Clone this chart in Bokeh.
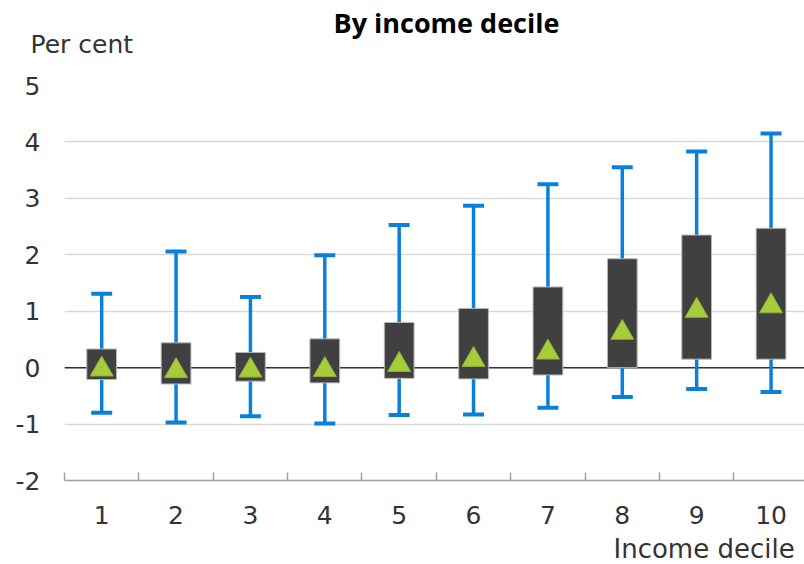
from bokeh.plotting import figure
from bokeh.models import (ColumnDataSource, FixedTicker, Span, Range1d, Title)
from bokeh.embed import file_html
from bokeh.resources import INLINE

# Distribution of the change, per cent, by income decile
deciles = [1, 2, 3, 4, 5, 6, 7, 8, 9, 10]
whisker_low = [-0.80, -0.97, -0.86, -0.99, -0.84, -0.83, -0.71, -0.52, -0.38, -0.43]
box_low = [-0.21, -0.29, -0.24, -0.27, -0.19, -0.20, -0.13, 0.00, 0.15, 0.15]
box_high = [0.33, 0.44, 0.27, 0.51, 0.80, 1.05, 1.43, 1.93, 2.35, 2.47]
whisker_high = [1.31, 2.06, 1.25, 1.99, 2.53, 2.87, 3.25, 3.55, 3.83, 4.15]
mean = [-0.03, -0.06, -0.05, -0.04, 0.05, 0.14, 0.27, 0.62, 1.01, 1.09]

y_ticks = [-2, -1, 0, 1, 2, 3, 4, 5]

src = ColumnDataSource(dict(
    x=deciles, wlo=whisker_low, blo=box_low, bhi=box_high,
    whi=whisker_high, mean=mean,
))

W, H = 804, 564
X0, X1 = 0.5, 10.45
Y0, Y1 = -2, 5

p = figure(width=W, height=H, output_backend="svg", toolbar_location=None,
           x_range=Range1d(X0, X1), y_range=Range1d(Y0, Y1),
           min_border_left=64, min_border_right=0,
           min_border_top=85, min_border_bottom=84)
p.outline_line_color = None
p.background_fill_color = "white"
p.border_fill_color = "white"

FONT = "DejaVu Sans"
FS = "25px"
TXT = "#333333"

# y axis: labels only, gridlines in light grey
p.yaxis.ticker = FixedTicker(ticks=y_ticks)
p.yaxis.major_label_overrides = {t: str(t) for t in y_ticks}
p.yaxis.axis_line_color = None
p.yaxis.major_tick_line_color = None
p.yaxis.minor_tick_line_color = None
p.yaxis.major_tick_in = 0
p.yaxis.major_tick_out = 0
p.yaxis.major_label_standoff = 24
p.yaxis.major_label_text_font = FONT
p.yaxis.major_label_text_font_size = FS
p.yaxis.major_label_text_color = TXT
p.ygrid.grid_line_color = "#d9d9d9"
p.ygrid.grid_line_width = 1.5
p.xgrid.grid_line_color = None

# x axis: labels at the decile centres, small ticks between categories
p.xaxis.ticker = FixedTicker(ticks=deciles,
                             minor_ticks=[d + 0.5 for d in [0] + deciles])
p.xaxis.axis_line_color = "#a0a0a0"
p.xaxis.axis_line_width = 1.5
p.xaxis.major_tick_line_color = None
p.xaxis.major_tick_in = 0
p.xaxis.major_tick_out = 0
p.xaxis.minor_tick_line_color = "#a0a0a0"
p.xaxis.minor_tick_line_width = 1.5
p.xaxis.minor_tick_in = 8
p.xaxis.minor_tick_out = 0
p.xaxis.major_label_standoff = 25
p.xaxis.major_label_text_font = FONT
p.xaxis.major_label_text_font_size = FS
p.xaxis.major_label_text_color = TXT

# zero line behind the boxes
p.add_layout(Span(location=0, dimension="width", line_color="#333333",
                  line_width=1.5, level="underlay"))

BLUE = "#0a80d8"
# whiskers
p.segment(x0="x", y0="wlo", x1="x", y1="whi", source=src,
          line_color=BLUE, line_width=3.5)
p.scatter(x="x", y="wlo", source=src, marker="dash", size=21,
          line_color=BLUE, line_width=4)
p.scatter(x="x", y="whi", source=src, marker="dash", size=21,
          line_color=BLUE, line_width=4)

# interquartile boxes
p.vbar(x="x", bottom="blo", top="bhi", width=0.40, source=src,
       fill_color="#404040", line_color="#b8b8b8", line_width=1)

# means
p.scatter(x="x", y="mean", source=src, marker="triangle", size=23,
          fill_color="#a6cc3c", line_color="#8fb032", line_width=1)

# side panels are stacked outwards from the frame;
# blank titles act as spacers between them
def spacer(standoff):
    return Title(text=" ", text_font=FONT, text_font_size="10px",
                 standoff=standoff)

p.add_layout(spacer(13.5), "above")
p.add_layout(Title(text="Per cent", align="left", offset=-34,
                   text_font=FONT, text_font_size=FS,
                   text_font_style="normal", text_color=TXT,
                   standoff=0), "above")
p.add_layout(Title(text="By income decile", align="left", offset=269,
                   text_font="Open Sans", text_font_size="27px",
                   text_font_style="bold", text_color="#000000",
                   standoff=-27.6), "above")
p.add_layout(spacer(2.0), "above")

# axis name, bottom right
p.add_layout(spacer(-2.0), "below")
p.add_layout(Title(text="Income decile", align="left", offset=549,
                   text_font=FONT, text_font_size="26px",
                   text_font_style="normal", text_color=TXT,
                   standoff=-12), "below")

open("out.html", "w").write(file_html(p, INLINE))
